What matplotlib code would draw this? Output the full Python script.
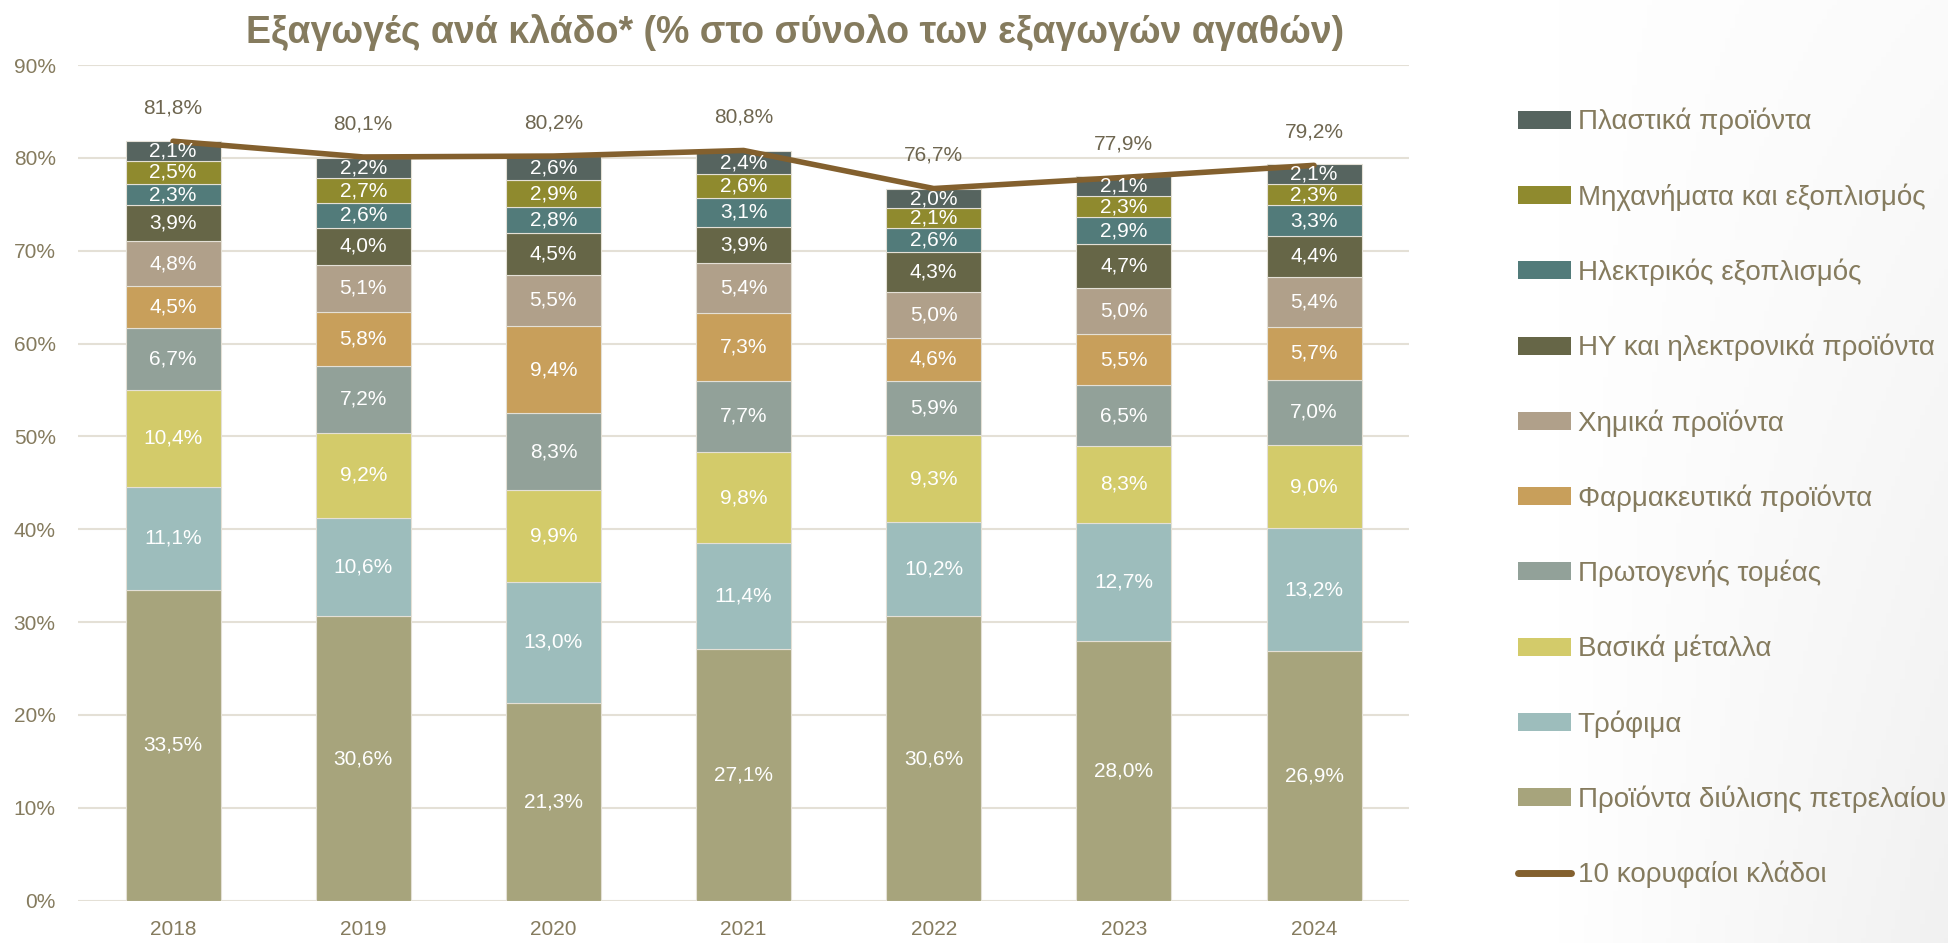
import numpy as np
import matplotlib
matplotlib.use("Agg")
from matplotlib import pyplot as plt
from matplotlib.patches import Patch
from matplotlib.lines import Line2D

plt.rcParams['font.family'] = ['Liberation Sans', 'DejaVu Sans']

years = ['2018', '2019', '2020', '2021', '2022', '2023', '2024']

# από κάτω προς τα πάνω
klados = ['Προϊόντα διύλισης πετρελαίου', 'Τρόφιμα', 'Βασικά μέταλλα',
          'Πρωτογενής τομέας', 'Φαρμακευτικά προϊόντα', 'Χημικά προϊόντα',
          'ΗΥ και ηλεκτρονικά προϊόντα', 'Ηλεκτρικός εξοπλισμός',
          'Μηχανήματα και εξοπλισμός', 'Πλαστικά προϊόντα']

petrelaio = [33.5, 30.6, 21.3, 27.1, 30.6, 28.0, 26.9]
trofima = [11.1, 10.6, 13.0, 11.4, 10.2, 12.7, 13.2]
metalla = [10.4, 9.2, 9.9, 9.8, 9.3, 8.3, 9.0]
protogenis = [6.7, 7.2, 8.3, 7.7, 5.9, 6.5, 7.0]
farmaka = [4.5, 5.8, 9.4, 7.3, 4.6, 5.5, 5.7]
ximika = [4.8, 5.1, 5.5, 5.4, 5.0, 5.0, 5.4]
hy = [3.9, 4.0, 4.5, 3.9, 4.3, 4.7, 4.4]
ilektrikos = [2.3, 2.6, 2.8, 3.1, 2.6, 2.9, 3.3]
mixanimata = [2.5, 2.7, 2.9, 2.6, 2.1, 2.3, 2.3]
plastika = [2.1, 2.2, 2.6, 2.4, 2.0, 2.1, 2.1]

top10 = [81.8, 80.1, 80.2, 80.8, 76.7, 77.9, 79.2]

series = [petrelaio, trofima, metalla, protogenis, farmaka, ximika, hy,
          ilektrikos, mixanimata, plastika]
colors = ['#A7A47C', '#9DBDBC', '#D3CB6A', '#92A199', '#C89F5B', '#B0A08A',
          '#666647', '#527B7A', '#8F8A2E', '#56645F']

text_col = '#857B5E'
line_col = '#83602E'

fig = plt.figure(figsize=(19.49, 9.43), dpi=100)

# ελαφριά σκίαση φόντου κάτω δεξιά, όπως στη διαφάνεια
bg = fig.add_axes([0, 0, 1, 1], zorder=-10)
gx = np.clip((np.linspace(0, 1, 400) - 0.80) / 0.20, 0, 1)
gy = np.linspace(0.3, 1.0, 200)[:, None]
shade = 1 - 0.055 * gx[None, :] * gy
img = np.dstack([shade, shade, shade])
bg.imshow(img, aspect='auto', extent=(0, 1, 0, 1))
bg.axis('off')

ax = fig.add_axes([0.040, 0.045, 0.683, 0.886])
ax.patch.set_alpha(0)

x = np.arange(len(years))
bottom = np.zeros(len(years))
for vals, col in zip(series, colors):
    vals = np.array(vals)
    ax.bar(x, vals, 0.5, bottom=bottom, color=col, edgecolor='#E4E0D6',
           linewidth=0.8, zorder=2)
    for xi, b, v in zip(x, bottom, vals):
        ax.text(xi, b + v / 2, f'{v:.1f}%'.replace('.', ','), ha='center',
                va='center', color='white', fontsize=15, zorder=4)
    bottom += vals

ax.plot(x, top10, color=line_col, linewidth=4, zorder=3,
        solid_capstyle='round')
for xi, v in zip(x, top10):
    ax.annotate(f'{v:.1f}%'.replace('.', ','), (xi, v), xytext=(0, 24),
                textcoords='offset points', ha='center', va='center',
                color='#6E6650', fontsize=15)

ax.set_xlim(-0.5, len(years) - 0.5)
ax.set_ylim(0, 90)
ax.set_yticks(range(0, 91, 10))
ax.set_yticklabels([f'{t}%' for t in range(0, 91, 10)])
ax.set_xticks(x)
ax.set_xticklabels(years)
ax.tick_params(length=0, labelsize=15, colors=text_col)
ax.tick_params(axis='y', pad=16)
ax.tick_params(axis='x', pad=14)
ax.yaxis.grid(True, color='#E4E0D6', linewidth=1.5, zorder=0)
ax.set_axisbelow(True)
for s in ax.spines.values():
    s.set_visible(False)

fig.text(0.408, 0.966, 'Εξαγωγές ανά κλάδο* (% στο σύνολο των εξαγωγών αγαθών)',
         ha='center', va='center', fontsize=27, fontweight='bold', color=text_col)

handles = [Patch(facecolor=c, edgecolor='none') for c in colors[::-1]]
labels = klados[::-1]
handles.append(Line2D([0], [0], color=line_col, linewidth=5,
                      solid_capstyle='round'))
labels.append('10 κορυφαίοι κλάδοι')
leg = fig.legend(handles, labels, loc='upper left',
                 bbox_to_anchor=(0.766, 0.912), frameon=False, fontsize=20,
                 handlelength=1.9, handleheight=0.62, labelspacing=1.72,
                 handletextpad=0.25, labelcolor=text_col)

fig.savefig('out.png', dpi=100)
